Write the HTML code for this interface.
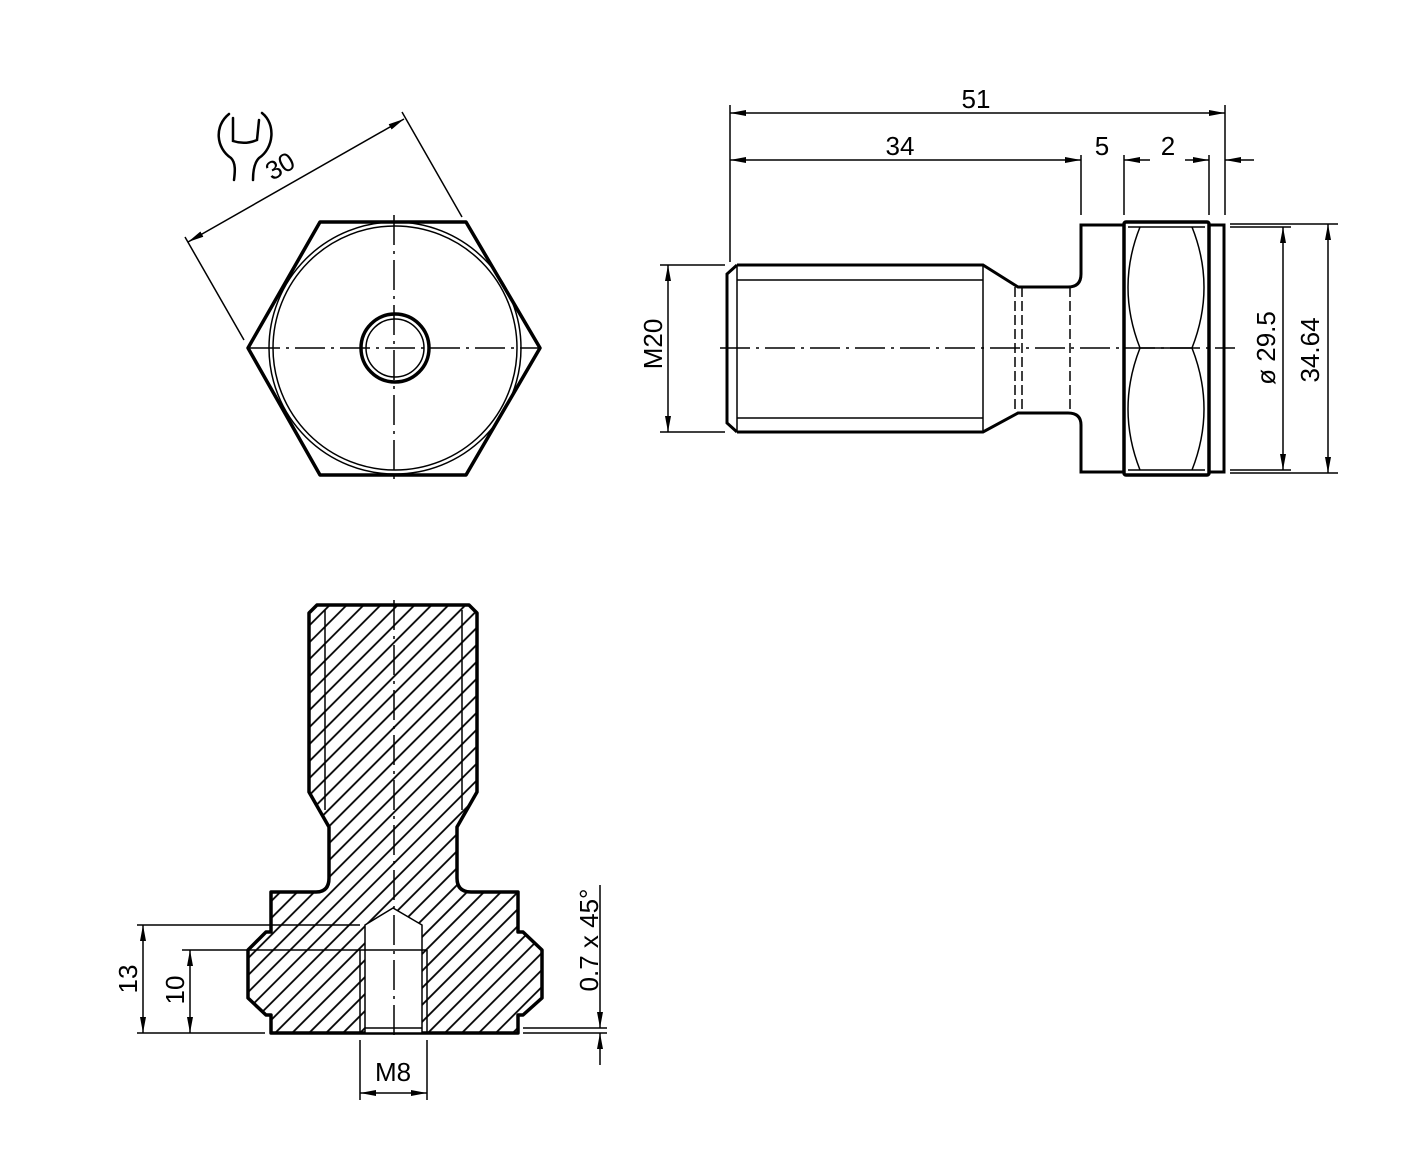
<!DOCTYPE html>
<html><head><meta charset="utf-8"><style>html,body{margin:0;padding:0;background:#fff}svg{display:block}text{font-family:"Liberation Sans",sans-serif;fill:#000}</style></head>
<body>
<svg width="1416" height="1158" viewBox="0 0 1416 1158" xmlns="http://www.w3.org/2000/svg">
<defs>
<marker id="a" viewBox="0 0 16 6" refX="16" refY="3" markerWidth="16" markerHeight="6" markerUnits="userSpaceOnUse" orient="auto-start-reverse"><path d="M0,0 L16,3 L0,6 Z" fill="#000"/></marker>
<pattern id="h" width="12" height="12" patternUnits="userSpaceOnUse" patternTransform="rotate(45)"><line x1="1" y1="0" x2="1" y2="12" stroke="#000" stroke-width="1.8"/></pattern>
</defs>
<g fill="none" stroke="#000">
<!-- Hex view -->
<polygon points="320,222 466,222 540,348 466,475 320,475 248,348" stroke-width="3.5" stroke-linejoin="round"/>
<circle cx="395" cy="348" r="126" stroke-width="1.5"/>
<circle cx="395" cy="348" r="122" stroke-width="1.5"/>
<circle cx="395" cy="348" r="34" stroke-width="3.5"/>
<circle cx="395" cy="348" r="29" stroke-width="1.5"/>
<line x1="250" y1="348" x2="540" y2="348" stroke-width="1.5" stroke-dasharray="30 6 3 6"/>
<line x1="394" y1="215" x2="394" y2="480" stroke-width="1.5" stroke-dasharray="30 6 3 6"/>
<line x1="185" y1="237" x2="244" y2="340" stroke-width="1.5"/>
<line x1="402" y1="112" x2="462" y2="217" stroke-width="1.5"/>
<line x1="188" y1="242" x2="404" y2="119" stroke-width="1.5" marker-start="url(#a)" marker-end="url(#a)"/>
<path d="M229,114 C214,126 216,148 231,158 C236,163 235,172 234,180 M233,118 L233,141 Q245,145 257,140 L259,120 M262,113 C276,124 274,148 259,158 C254,163 253,172 253,180" stroke-width="2.5" stroke-linecap="round"/>
<!-- Side view -->
<path d="M737,265 L983,265 L1018,287 L1068,287 Q1081,287 1081,274 L1081,225 L1124,225 M737,432 L983,432 L1018,413 L1068,413 Q1081,413 1081,425 L1081,472 L1124,472 M737,265 L727,274 L727,423 L737,432" stroke-width="3"/>
<rect x="1124" y="222" width="85" height="253" rx="2" stroke-width="3.5"/>
<path d="M1209,225 L1224,225 L1224,472 L1209,472" stroke-width="3"/>
<line x1="737" y1="280" x2="983" y2="280" stroke-width="1.5"/>
<line x1="737" y1="418" x2="983" y2="418" stroke-width="1.5"/>
<line x1="737" y1="265" x2="737" y2="432" stroke-width="1.5"/>
<line x1="983" y1="265" x2="983" y2="432" stroke-width="1.5"/>
<line x1="1015" y1="287" x2="1015" y2="413" stroke-width="1.5" stroke-dasharray="10 4"/>
<line x1="1022" y1="287" x2="1022" y2="413" stroke-width="1.5" stroke-dasharray="10 4"/>
<line x1="1070" y1="287" x2="1070" y2="413" stroke-width="1.5" stroke-dasharray="10 4"/>
<path d="M1140,227 Q1116,287 1140,348 Q1116,409 1140,470 M1192,227 Q1216,287 1192,348 Q1216,409 1192,470 M1140,348 L1192,348 M1128,227 L1205,227 M1128,470 L1205,470" stroke-width="1.5"/>
<line x1="720" y1="348" x2="1235" y2="348" stroke-width="1.5" stroke-dasharray="30 6 3 6"/>
<!-- dims side -->
<line x1="730" y1="105" x2="730" y2="262" stroke-width="1.5"/>
<line x1="1225" y1="105" x2="1225" y2="215" stroke-width="1.5"/>
<line x1="1081" y1="155" x2="1081" y2="215" stroke-width="1.5"/>
<line x1="1124" y1="155" x2="1124" y2="215" stroke-width="1.5"/>
<line x1="1209" y1="155" x2="1209" y2="215" stroke-width="1.5"/>
<line x1="730" y1="113" x2="1225" y2="113" stroke-width="1.5" marker-start="url(#a)" marker-end="url(#a)"/>
<line x1="730" y1="160" x2="1081" y2="160" stroke-width="1.5" marker-start="url(#a)" marker-end="url(#a)"/>
<line x1="1124" y1="160" x2="1150" y2="160" stroke-width="1.5" marker-start="url(#a)"/>
<line x1="1185" y1="160" x2="1209" y2="160" stroke-width="1.5" marker-end="url(#a)"/>
<line x1="1225" y1="160" x2="1254" y2="160" stroke-width="1.5" marker-start="url(#a)"/>
<line x1="1230" y1="227" x2="1291" y2="227" stroke-width="1.5"/>
<line x1="1230" y1="470" x2="1291" y2="470" stroke-width="1.5"/>
<line x1="1230" y1="224" x2="1338" y2="224" stroke-width="1.5"/>
<line x1="1230" y1="473" x2="1338" y2="473" stroke-width="1.5"/>
<line x1="1283" y1="227" x2="1283" y2="470" stroke-width="1.5" marker-start="url(#a)" marker-end="url(#a)"/>
<line x1="1328" y1="224" x2="1328" y2="473" stroke-width="1.5" marker-start="url(#a)" marker-end="url(#a)"/>
<line x1="660" y1="265" x2="725" y2="265" stroke-width="1.5"/>
<line x1="660" y1="432" x2="725" y2="432" stroke-width="1.5"/>
<line x1="668" y1="265" x2="668" y2="432" stroke-width="1.5" marker-start="url(#a)" marker-end="url(#a)"/>
<!-- Section view -->
<path d="M317,605 L469,605 L477,613 L477,792 L457,827 L457,878 Q457,892 471,892 L518,892 L518,932 L523,932 L542,950 L542,998 L523,1015 L518,1015 L518,1033 L271,1033 L271,1015 L266,1015 L248,998 L248,950 L266,932 L271,932 L271,892 L316,892 Q329,892 329,878 L329,827 L309,792 L309,613 Z" fill="url(#h)" stroke-width="3.5" stroke-linejoin="round"/>
<path d="M365,925 L393,908 L422,925 L422,1033 L365,1033 Z" fill="#fff" stroke-width="1.5"/>
<line x1="325" y1="610" x2="325" y2="810" stroke-width="1.5"/>
<line x1="462" y1="610" x2="462" y2="810" stroke-width="1.5"/>
<line x1="360" y1="950" x2="360" y2="1033" stroke-width="1.5"/>
<line x1="427" y1="950" x2="427" y2="1033" stroke-width="1.5"/>
<line x1="365" y1="1028" x2="422" y2="1028" stroke-width="1.5"/>
<line x1="394" y1="600" x2="394" y2="1035" stroke-width="1.5" stroke-dasharray="30 6 3 6"/>
<line x1="137" y1="925" x2="360" y2="925" stroke-width="1.5"/>
<line x1="182" y1="950" x2="427" y2="950" stroke-width="1.5"/>
<line x1="137" y1="1033" x2="265" y2="1033" stroke-width="1.5"/>
<line x1="143" y1="925" x2="143" y2="1033" stroke-width="1.5" marker-start="url(#a)" marker-end="url(#a)"/>
<line x1="190" y1="950" x2="190" y2="1033" stroke-width="1.5" marker-start="url(#a)" marker-end="url(#a)"/>
<line x1="360" y1="1040" x2="360" y2="1100" stroke-width="1.5"/>
<line x1="427" y1="1040" x2="427" y2="1100" stroke-width="1.5"/>
<line x1="360" y1="1093" x2="427" y2="1093" stroke-width="1.5" marker-start="url(#a)" marker-end="url(#a)"/>
<line x1="523" y1="1028" x2="607" y2="1028" stroke-width="1.5"/>
<line x1="523" y1="1033" x2="607" y2="1033" stroke-width="1.5"/>
<line x1="600" y1="885" x2="600" y2="1028" stroke-width="1.5" marker-end="url(#a)"/>
<line x1="600" y1="1065" x2="600" y2="1033" stroke-width="1.5" marker-end="url(#a)"/>
</g>
<g font-size="26">
<text x="272" y="181" transform="rotate(-30 272 181)">30</text>
<text x="976" y="108" text-anchor="middle">51</text>
<text x="900" y="155" text-anchor="middle">34</text>
<text x="1102" y="155" text-anchor="middle">5</text>
<text x="1168" y="155" text-anchor="middle">2</text>
<text x="0" y="0" text-anchor="middle" transform="translate(1275,348) rotate(-90)">ø 29.5</text>
<text x="0" y="0" text-anchor="middle" transform="translate(1319,350) rotate(-90)">34.64</text>
<text x="0" y="0" text-anchor="middle" transform="translate(662,344) rotate(-90)">M20</text>
<text x="0" y="0" text-anchor="middle" transform="translate(137,979) rotate(-90)">13</text>
<text x="0" y="0" text-anchor="middle" transform="translate(184,990) rotate(-90)">10</text>
<text x="393" y="1081" text-anchor="middle">M8</text>
<text x="0" y="0" text-anchor="middle" transform="translate(598,940) rotate(-90)">0.7 x 45°</text>
</g>
</svg>
</body></html>
